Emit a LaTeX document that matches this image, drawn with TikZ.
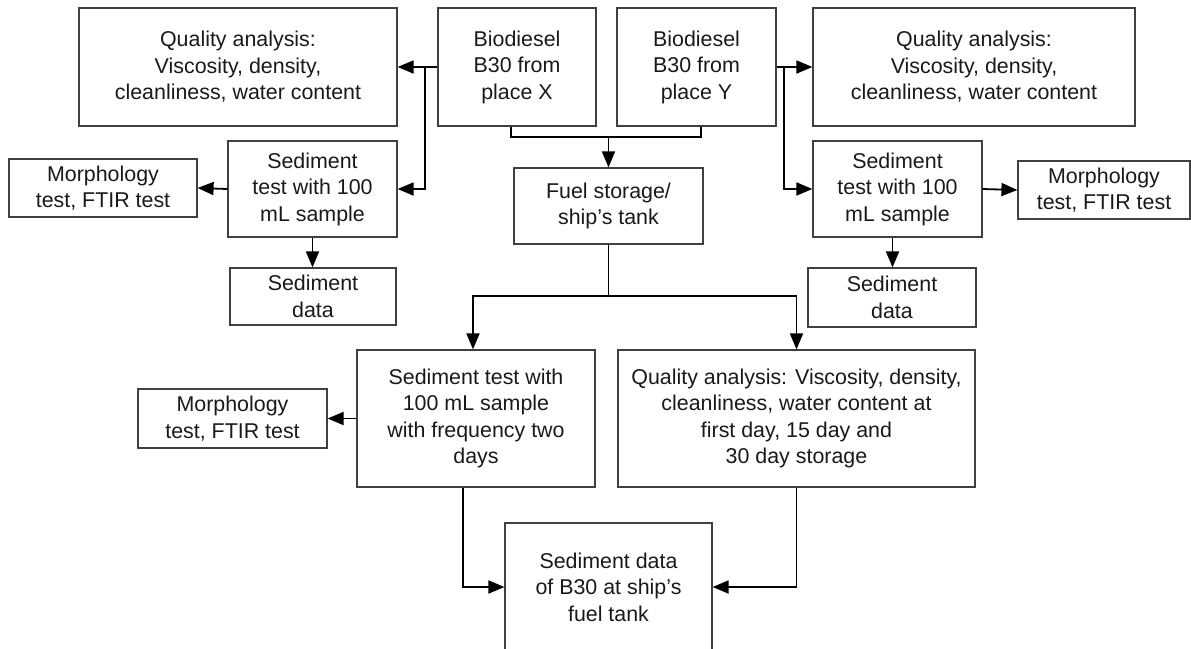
\documentclass[tikz,border=0pt]{standalone}
\usepackage{fontspec}
\setmainfont{Liberation Sans}
\usetikzlibrary{arrows.meta}
\begin{document}
\begin{tikzpicture}[x=1pt, y=-1pt, line join=miter,
  box/.style={draw=black!75, line width=1.2pt, align=center, inner sep=0pt, text=black!90,
    font=\fontsize{21.4}{26.5}\selectfont},
  arr/.style={line width=1.8pt, -{Triangle[length=16pt,width=13pt]}},
  lin/.style={line width=1.8pt}]
\useasboundingbox (0,0) rectangle (1191,648);
\begin{scope}
\node[box, minimum width=318, minimum height=118] (qaL) at (238,67) {Quality analysis:\\Viscosity, density,\\cleanliness, water content};
\node[box, minimum width=158, minimum height=118] (bioX) at (517,67) {Biodiesel\\B30 from\\place X};
\node[box, minimum width=159, minimum height=118] (bioY) at (696.5,67) {Biodiesel\\B30 from\\place Y};
\node[box, minimum width=322, minimum height=118] (qaR) at (974,67) {Quality analysis:\\Viscosity, density,\\cleanliness, water content};
\node[box, minimum width=169, minimum height=96] (sedL) at (312.5,189) {Sediment\\test with 100\\mL sample};
\node[box, minimum width=188, minimum height=58] (morphL) at (103,188) {Morphology\\test, FTIR test};
\node[box, minimum width=166, minimum height=57] (sdataL) at (313,296.5) {Sediment\\data};
\node[box, minimum width=189, minimum height=76] (fuel) at (608.5,206) {Fuel storage/\\ship’s tank};
\node[box, minimum width=169, minimum height=96] (sedR) at (897.5,189) {Sediment\\test with 100\\mL sample};
\node[box, minimum width=172, minimum height=58] (morphR) at (1104,190) {Morphology\\test, FTIR test};
\node[box, minimum width=168, minimum height=59] (sdataR) at (892,297.5) {Sediment\\data};
\node[box, minimum width=238, minimum height=137] (sedLow) at (476,418.5) {Sediment test with\\100 mL sample\\with frequency two\\days};
\node[box, minimum width=357, minimum height=137] (qaLow) at (796.5,418.5) {Quality analysis: Viscosity, density,\\cleanliness, water content at\\first day, 15 day and\\30 day storage};
\node[box, minimum width=189, minimum height=59] (morphLow) at (232.5,418.5) {Morphology\\test, FTIR test};
\node[box, minimum width=207, minimum height=128] (final) at (608.5,587) {Sediment data\\of B30 at ship’s\\fuel tank};
\end{scope}
\begin{scope}
\coordinate (jL) at (425,67);
\coordinate (jR) at (784,67);
\coordinate (jT) at (608.5,137);
\coordinate (jB) at (608.5,296);
\draw[arr] (bioX.west) -- (qaL.east);
\draw[arr] (jL) |- (sedL.east);
\draw[arr] (bioY.east) -- (qaR.west);
\draw[arr] (jR) |- (sedR.west);
\draw[lin] ([xshift=-6]bioX.south) |- (jT) -| ([xshift=4.5]bioY.south);
\draw[arr] (jT) -- (fuel.north);
\draw[arr] (sedL.west) -- (morphL.east);
\draw[arr] (sedL.south) -- (sdataL.north -| sedL.south);
\draw[arr] (sedR.east) -- (morphR.west);
\draw[arr] ([xshift=-5]sedR.south) -- ([xshift=-5]sedR.south |- sdataR.north);
\draw[arr] (fuel.south) -- (jB) -| ([xshift=-3]sedLow.north);
\draw[arr] (jB) -| (qaLow.north);
\draw[arr] (sedLow.west) -- (morphLow.east);
\draw[arr] ([xshift=-13]sedLow.south) |- (final.west);
\draw[arr] (qaLow.south) |- (final.east);
\end{scope}
\end{tikzpicture}
\end{document}
